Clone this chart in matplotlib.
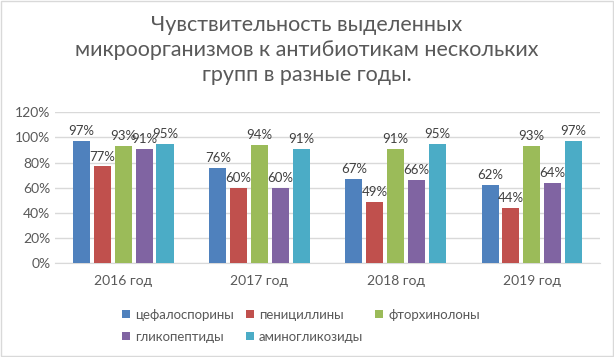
import matplotlib
matplotlib.use('Agg')
import matplotlib.pyplot as plt
import numpy as np
from matplotlib.ticker import PercentFormatter

plt.rcParams['font.family'] = ['Lato', 'DejaVu Sans']

years = ['2016 год', '2017 год', '2018 год', '2019 год']
series = ['цефалоспорины', 'пенициллины', 'фторхинолоны', 'гликопептиды', 'аминогликозиды']
cefalo = [97, 76, 67, 62]
penic = [77, 60, 49, 44]
ftor = [93, 94, 91, 93]
glico = [91, 60, 66, 64]
amino = [95, 91, 95, 97]
colors = ['#4F81BD', '#C0504D', '#9BBB59', '#8064A2', '#4BACC6']

values = [cefalo, penic, ftor, glico, amino]

fig = plt.figure(figsize=(6.14, 3.57), dpi=100)
ax = fig.add_axes([0.09, 0.262, 0.887, 0.424])

x = np.arange(len(years))
w = 0.125
step = 0.153
for i, (name, vals) in enumerate(zip(series, values)):
    pos = x + (i - 2) * step
    ax.bar(pos, vals, w, color=colors[i], label=name, zorder=3)
    for p, v in zip(pos, vals):
        ax.text(p, v + 3, f'{v}%', ha='center', va='bottom', fontsize=9.5, color='#404040', zorder=4)

ax.set_ylim(0, 120)
ax.set_yticks(range(0, 121, 20))
ax.yaxis.set_major_formatter(PercentFormatter(decimals=0))
ax.set_xlim(-0.5, 3.5)
ax.set_xticks(x)
ax.set_xticklabels(years)
ax.tick_params(axis='both', length=0, labelsize=10, labelcolor='#595959')
ax.tick_params(axis='x', pad=8)
ax.grid(axis='y', color='#D9D9D9', linewidth=1, zorder=0)
for s in ['top', 'right', 'left']:
    ax.spines[s].set_visible(False)
ax.spines['bottom'].set_color('#D9D9D9')

fig.text(0.5, 0.86, 'Чувствительность выделенных\nмикроорганизмов к антибиотикам нескольких\nгрупп в разные годы.',
         ha='center', va='center', fontsize=15.5, color='#595959', linespacing=1.3)

order = [0, 3, 1, 4, 2]
h, l = ax.get_legend_handles_labels()
fig.legend([h[k] for k in order], [l[k] for k in order], ncol=3, loc='center',
           bbox_to_anchor=(0.49, 0.088), frameon=False, fontsize=9.5, labelcolor='#595959',
           handlelength=0.6, handleheight=0.6, handletextpad=0.4, columnspacing=0.9, labelspacing=0.75)

border = plt.Rectangle((0.002, 0.003), 0.996, 0.994, transform=fig.transFigure, fill=False,
                       edgecolor='#D9D9D9', linewidth=1)
fig.patches.append(border)

fig.savefig('out.png', dpi=100)
